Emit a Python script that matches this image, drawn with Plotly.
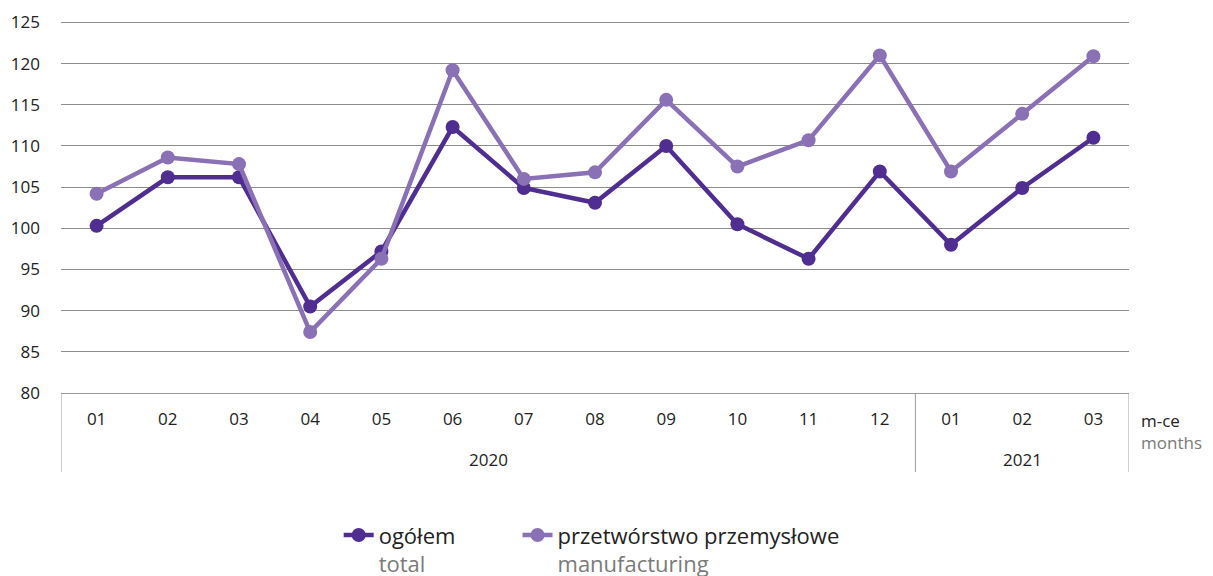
import plotly.graph_objects as go

years = ["2020"] * 12 + ["2021"] * 3
months = ["01", "02", "03", "04", "05", "06", "07", "08", "09", "10", "11", "12", "01", "02", "03"]
total = [100.3, 106.2, 106.2, 90.5, 97.2, 112.3, 104.9, 103.1, 110.0, 100.5, 96.3, 106.9, 98.0, 104.9, 111.0]
manufacturing = [104.2, 108.6, 107.8, 87.4, 96.3, 119.2, 106.0, 106.8, 115.6, 107.5, 110.7, 121.0, 106.9, 113.9, 120.9]

dark = "#4f2d91"
light = "#8a70b5"
gray_text = "#7a7a7a"
line_gray = "#9a9a9a"

xs = list(range(len(months)))
pad = "\u00a0" * 10

fig = go.Figure()
fig.add_trace(go.Scatter(
    x=xs, y=total, mode="lines+markers",
    name="ogółem%s<br><span style='color:%s'>total</span>" % (pad, gray_text),
    line=dict(color=dark, width=4.5), marker=dict(color=dark, size=14),
))
fig.add_trace(go.Scatter(
    x=xs, y=manufacturing, mode="lines+markers",
    name="przetwórstwo przemysłowe<br><span style='color:%s'>manufacturing</span>" % gray_text,
    line=dict(color=light, width=4.5), marker=dict(color=light, size=14),
))

H = 373.0  # plot height in px
fig.update_layout(
    width=1213, height=576,
    margin=dict(l=53, r=92, t=12, b=191, autoexpand=False),
    paper_bgcolor="white", plot_bgcolor="white",
    font=dict(family="Open Sans, Noto Sans, sans-serif", size=17, color="#222"),
    showlegend=True,
    legend=dict(orientation="h", x=0.26, xanchor="left", y=-0.325, yanchor="top",
                font=dict(family="Open Sans, Noto Sans, sans-serif", size=22, color="#222"),
                valign="top", traceorder="normal"),
    hovermode=False,
)
fig.update_yaxes(range=[80, 125.3], dtick=5, tick0=80, showgrid=True, gridcolor="#8c8c8c",
                 gridwidth=1, zeroline=False, showline=False, ticks="", ticklabelstandoff=20,
                 automargin=False, tickfont=dict(size=17, color="#222"))
fig.update_xaxes(range=[-0.5, len(months) - 0.5], tickmode="array", tickvals=xs, ticktext=months,
                 showline=True, linecolor=line_gray, linewidth=1, showgrid=False, zeroline=False,
                 ticks="", ticklabelstandoff=11, automargin=False,
                 tickfont=dict(size=17, color="#222"))

# year group labels and dividers
groups = []
for i, yv in enumerate(years):
    if not groups or groups[-1][0] != yv:
        groups.append([yv, i, i])
    else:
        groups[-1][2] = i
div_y = -79 / H
for yv, i0, i1 in groups:
    fig.add_annotation(xref="x", yref="paper", x=(i0 + i1) / 2, y=-67 / H, yanchor="middle",
                       text=yv, showarrow=False, font=dict(size=17, color="#222"))
    fig.add_shape(type="line", xref="x", yref="paper", x0=i0 - 0.5, x1=i0 - 0.5, y0=0, y1=div_y,
                  line=dict(color=line_gray, width=1))
fig.add_shape(type="line", xref="x", yref="paper", x0=groups[-1][2] + 0.5, x1=groups[-1][2] + 0.5,
              y0=0, y1=div_y, line=dict(color=line_gray, width=1))

fig.add_annotation(xref="paper", yref="paper", x=1.0095, y=-14 / H, xanchor="left", yanchor="top",
                   text="m-ce<br><span style='color:%s'>months</span>" % gray_text, showarrow=False,
                   align="left", font=dict(size=17, color="#222"))

fig.write_html("out.html")
